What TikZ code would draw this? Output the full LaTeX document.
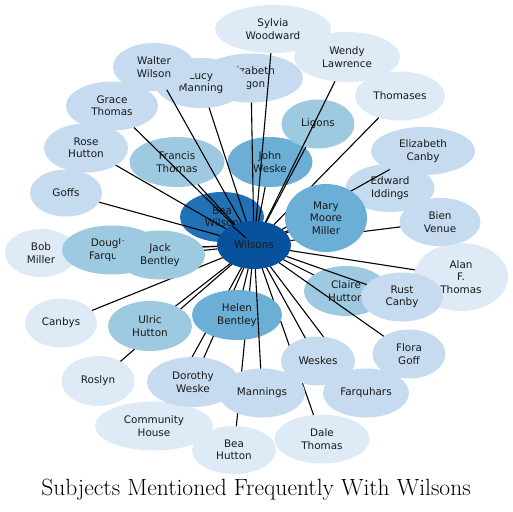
\documentclass[tikz,border=0pt]{standalone}
\usepackage{fontspec}
\usetikzlibrary{shapes.geometric}
\newfontfamily\lblfont{DejaVu Sans}
\definecolor{bA}{HTML}{DEEBF7}
\definecolor{bB}{HTML}{C6DBEF}
\definecolor{bC}{HTML}{9ECAE1}
\definecolor{bD}{HTML}{6BAED6}
\definecolor{bE}{HTML}{2171B5}
\definecolor{bF}{HTML}{08519C}
\tikzset{
  nd/.style={ellipse, draw=none, inner sep=0pt, outer sep=0pt, align=center,
    text=black!90, font=\lblfont\fontsize{10.4}{12.3}\selectfont},
  edge/.style={draw=black, line width=1.1pt},
}
\begin{document}
\begin{tikzpicture}[x=1pt,y=-1pt]
\useasboundingbox (0,0) rectangle (513,511);
% lightest nodes
\node[nd, fill=bA, minimum width=116pt, minimum height=48pt] (syl) at (273,29) {Sylvia\\Woodward};
\node[nd, fill=bA, minimum width=106pt, minimum height=50pt] (wen) at (347,57) {Wendy\\Lawrence};
\node[nd, fill=bA, minimum width=90pt, minimum height=49pt] (tho) at (400,96) {Thomases};
\node[nd, fill=bA, minimum width=94pt, minimum height=68pt] (ala) at (461,277) {Alan\\F.\\Thomas};
\node[nd, fill=bA, minimum width=72pt, minimum height=48pt] (bob) at (41,253) {Bob\\Miller};
\node[nd, fill=bA, minimum width=72pt, minimum height=49pt] (can) at (61,323) {Canbys};
\node[nd, fill=bA, minimum width=73pt, minimum height=50pt] (ros) at (98,381) {Roslyn};
\node[nd, fill=bA, minimum width=118pt, minimum height=49pt] (com) at (154,426) {Community\\House};
\node[nd, fill=bA, minimum width=84pt, minimum height=48pt] (bhu) at (234,450) {Bea\\Hutton};
\node[nd, fill=bA, minimum width=95pt, minimum height=49pt] (dal) at (322,439) {Dale\\Thomas};
% other nodes
\node[nd, fill=bB, minimum width=104pt, minimum height=49pt] (eli) at (251,78) {Elizabeth\\Ligon};
\node[nd, fill=bB, minimum width=92pt, minimum height=50pt] (luc) at (201,83) {Lucy\\Manning};
\node[nd, fill=bB, minimum width=82pt, minimum height=48pt] (wal) at (154,67) {Walter\\Wilson};
\node[nd, fill=bB, minimum width=92pt, minimum height=49pt] (gra) at (112,106) {Grace\\Thomas};
\node[nd, fill=bB, minimum width=84pt, minimum height=49pt] (rho) at (86,148) {Rose\\Hutton};
\node[nd, fill=bB, minimum width=72pt, minimum height=47pt] (gof) at (66,193) {Goffs};
\node[nd, fill=bC, minimum width=95pt, minimum height=50pt] (fra) at (177,162) {Francis\\Thomas};
\node[nd, fill=bD, minimum width=85pt, minimum height=50pt] (joh) at (270,162) {John\\Weske};
\node[nd, fill=bC, minimum width=73pt, minimum height=49pt] (lig) at (318,124) {Ligons};
\node[nd, fill=bB, minimum width=104pt, minimum height=48pt] (eca) at (423,151) {Elizabeth\\Canby};
\node[nd, fill=bB, minimum width=89pt, minimum height=48pt] (edw) at (390,188) {Edward\\Iddings};
\node[nd, fill=bB, minimum width=81pt, minimum height=48pt] (bie) at (440,222) {Bien\\Venue};
\node[nd, fill=bC, minimum width=84pt, minimum height=50pt] (cla) at (346,291) {Claire\\Hutton};
\node[nd, fill=bB, minimum width=82pt, minimum height=49pt] (rus) at (402,297) {Rust\\Canby};
\node[nd, fill=bB, minimum width=73pt, minimum height=49pt] (flo) at (409,354) {Flora\\Goff};
\node[nd, fill=bB, minimum width=86pt, minimum height=49pt] (far) at (366,393) {Farquhars};
\node[nd, fill=bE, minimum width=84pt, minimum height=50pt] (bwi) at (222,217) {Bea\\Wilson};
\node[nd, fill=bF, minimum width=74pt, minimum height=48pt] (wil) at (254,245) {Wilsons};
% edges drawn over the nodes above
\foreach \t in {syl,eli,luc,wal,gra,rho,gof,fra,joh,lig,wen,tho,eca,ala,rus,flo,cla,can,bhu,com,ros,bob,dal,far,bwi}
  \draw[edge] (wil) -- (\t);
% nodes drawn over edges
\node[nd, fill=bB, minimum width=92pt, minimum height=50pt] (dor) at (193,382) {Dorothy\\Weske};
\draw[edge] (wil) -- (dor);
\node[nd, fill=bB, minimum width=74pt, minimum height=49pt] (wes) at (318,361) {Weskes};
\draw[edge] (wil) -- (wes);
\node[nd, fill=bC, minimum width=84pt, minimum height=50pt] (ulr) at (150,326) {Ulric\\Hutton};
\draw[edge] (wil) -- (ulr);
\node[nd, fill=bD, minimum width=90pt, minimum height=50pt] (hel) at (237,315) {Helen\\Bentley};
\draw[edge] (wil) -- (hel);
\node[nd, fill=bB, minimum width=86pt, minimum height=49pt] (man) at (262,393) {Mannings};
\draw[edge] (wil) -- (man);
\draw[edge] (wil) -- (edw);
\draw[edge] (wil) -- (bie);
\node[nd, fill=bD, minimum width=82pt, minimum height=68pt] (mar) at (326,218) {Mary\\Moore\\Miller};
\draw[edge] (wil) -- (mar);
\node[nd, fill=bC, minimum width=100pt, minimum height=49pt] (dou) at (112,250) {Douglas\\Farquhar};
\draw[edge] (wil) -- (dou);
\node[nd, fill=bC, minimum width=90pt, minimum height=49pt] (jac) at (160,255) {Jack\\Bentley};
\draw[edge] (wil) -- (jac);
% title
\node[anchor=base, font=\fontsize{23.5}{28}\selectfont, inner sep=0pt] (title) at (256,495) {Subjects Mentioned Frequently With Wilsons};
\end{tikzpicture}
\end{document}
